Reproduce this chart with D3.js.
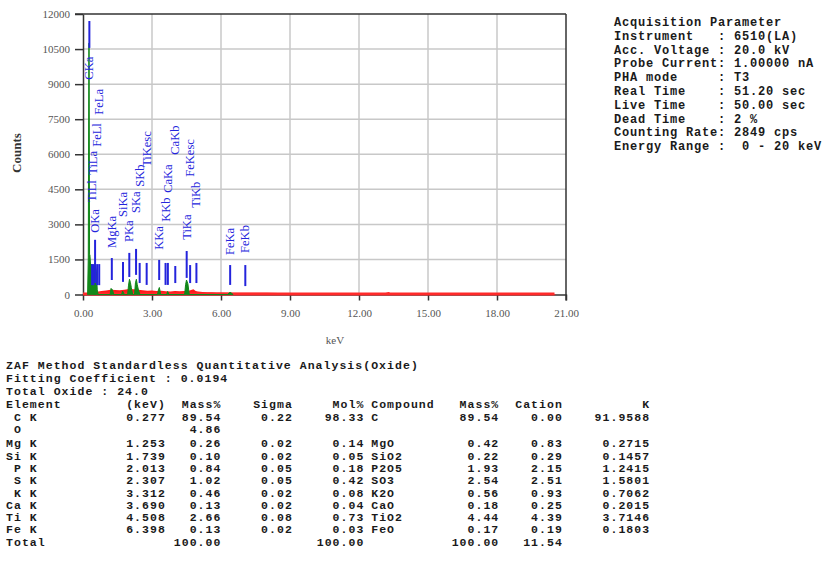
<!DOCTYPE html>
<html><head><meta charset="utf-8">
<script src="https://cdn.jsdelivr.net/npm/d3@7"></script>
<style>body{margin:0;background:#fff}svg{display:block}</style>
</head><body>
<script>
// ---------- data ----------
const xTicks = [0, 3, 6, 9, 12, 15, 18, 21];
const yTicks = [0, 1500, 3000, 4500, 6000, 7500, 9000, 10500, 12000];

// background (red) spectrum, keV / counts
const bgEnergy = [0.0,0.2,0.4,0.6,0.8,1.0,1.2,1.4,1.6,1.8,2.0,2.2,2.4,2.6,2.8,3.0,3.2,3.4,3.6,3.8,4.0,4.2,4.4,4.6,4.8,4.9,5.0,5.2,5.4,5.6,5.8,6.0,6.5,7.0,7.5,8.0,8.5,9.0,9.5,10.0,10.5,11.0,12.0,13.0,13.3,13.4,14.0,15.0,16.0,17.0,18.0,19.0,20.0,20.5,20.6,21.0];
const bgCounts = [0,0,60,120,150,170,200,190,180,200,230,220,200,180,160,170,150,160,140,130,150,140,150,160,220,150,130,110,100,95,90,90,80,75,70,70,60,55,50,45,40,30,25,20,110,20,20,20,20,20,20,20,20,20,0,0];

// identified peak (green) spectrum, keV / counts
const peakEnergy = [0.20,0.23,0.255,0.265,0.285,0.30,0.34,0.36,0.40,0.44,0.48,0.52,0.58,0.62,0.66,1.18,1.22,1.28,1.34,1.68,1.72,1.80,1.94,1.98,2.02,2.06,2.10,2.16,2.24,2.28,2.32,2.36,2.42,2.48,3.24,3.28,3.32,3.38,3.64,3.68,3.74,4.42,4.46,4.50,4.56,4.62,6.30,6.36,6.44,6.52];
const peakCounts = [0,1600,10750,10750,1700,1700,1100,1300,1250,300,900,1350,1000,200,0,0,260,200,0,0,150,0,0,400,650,520,300,0,0,500,650,420,150,0,0,200,300,0,0,130,0,0,420,620,460,0,0,80,80,0];

// KLM markers
const markerLabels = ["CKa","OKa","TiLl","TiLa","FeLl","FeLa","MgKa","SiKa","PKa","SKa","SKb","TiKesc","KKa","KKb","CaKa","CaKb","TiKa","TiKb","FeKesc","FeKa","FeKb"];
const markerEnergy = [0.277,0.525,0.395,0.452,0.615,0.705,1.253,1.739,2.013,2.307,2.464,2.768,3.312,3.589,3.690,4.012,4.508,4.931,4.658,6.398,7.057];
const markerTop    = [11700,2340,1300,1300,1300,1300,1560,1390,1780,1950,1350,1350,1480,1350,1350,1220,1860,1350,1260,1260,1260];
const markerBottom = [10550,490,400,400,400,400,620,540,750,840,490,410,620,410,410,490,710,490,490,410,360];
const labelBase    = [9190,2640,3960,5120,6320,7690,1990,3320,2250,3490,4610,5460,1910,3110,4350,5980,2340,3710,5040,1690,1780];

// acquisition parameters
const acqLines = [
  "Acquisition Parameter",
  "Instrument   : 6510(LA)",
  "Acc. Voltage : 20.0 kV",
  "Probe Current: 1.00000 nA",
  "PHA mode     : T3",
  "Real Time    : 51.20 sec",
  "Live Time    : 50.00 sec",
  "Dead Time    : 2 %",
  "Counting Rate: 2849 cps",
  "Energy Range :  0 - 20 keV"
];

// quantitative analysis report
const reportHeader = [
  "ZAF Method Standardless Quantitative Analysis(Oxide)",
  "Fitting Coefficient : 0.0194",
  "Total Oxide : 24.0"
];
const columnHeads = ["Element","(keV)","Mass%","Sigma","Mol%","Compound","Mass%","Cation","K"];
const elements = [" C K"," O","Mg K","Si K"," P K"," S K"," K K","Ca K","Ti K","Fe K","Total"];
const energyKeV = ["0.277","","1.253","1.739","2.013","2.307","3.312","3.690","4.508","6.398",""];
const massPct   = ["89.54","4.86","0.26","0.10","0.84","1.02","0.46","0.13","2.66","0.13","100.00"];
const sigma     = ["0.22","","0.02","0.02","0.05","0.05","0.02","0.02","0.08","0.02",""];
const molPct    = ["98.33","","0.14","0.05","0.18","0.42","0.08","0.04","0.73","0.03","100.00"];
const compound  = ["C","","MgO","SiO2","P2O5","SO3","K2O","CaO","TiO2","FeO",""];
const compMass  = ["89.54","","0.42","0.22","1.93","2.54","0.56","0.18","4.44","0.17","100.00"];
const cation    = ["0.00","","0.83","0.29","2.15","2.51","0.93","0.25","4.39","0.19","11.54"];
const kRatio    = ["91.9588","","0.2715","0.1457","1.2415","1.5801","0.7062","0.2015","3.7146","0.1803",""];

// ---------- drawing ----------
const W = 825, H = 564;
const svg = d3.select("body").append("svg").attr("width", W).attr("height", H);

const x = d3.scaleLinear().domain([0, 21]).range([83, 566]);
const y = d3.scaleLinear().domain([0, 12000]).range([294.5, 14]);
const serif = "'Liberation Serif','Times New Roman',serif";
const mono = "'Liberation Mono','Courier New',monospace";

// grid
const grid = svg.append("g");
grid.selectAll("line.v").data(xTicks.filter(d => d > 0 && d < 21)).join("line")
  .attr("x1", d => x(d)).attr("x2", d => x(d)).attr("y1", y(12000)).attr("y2", y(0))
  .attr("stroke", "#c8c8c8").attr("stroke-width", 1.5);
grid.selectAll("line.h").data(yTicks.filter(d => d > 0 && d < 12000)).join("line")
  .attr("x1", x(0)).attr("x2", x(21)).attr("y1", d => y(d)).attr("y2", d => y(d))
  .attr("stroke", "#c8c8c8").attr("stroke-width", 1.5);

// axes
const yAxis = d3.axisLeft(y).tickValues(yTicks).tickSize(8).tickSizeOuter(0).tickFormat(d3.format("d"));
const gy = svg.append("g").attr("transform", `translate(${x(0)},0)`).call(yAxis);
const xAxis = d3.axisBottom(x).tickValues(xTicks).tickSize(6).tickSizeOuter(0).tickFormat(d3.format(".2f"));
const gx = svg.append("g").attr("transform", `translate(0,${y(0)})`).call(xAxis);
[gx, gy].forEach(g => {
  g.select(".domain").attr("stroke", "#333").attr("stroke-width", 1.5);
  g.selectAll(".tick line").attr("stroke", "#333").attr("stroke-width", 1.5);
  g.selectAll(".tick text").attr("font-family", serif).attr("font-size", 11).attr("fill", "#555");
});
gy.selectAll(".tick text").attr("x", -13);
gx.selectAll(".tick text").attr("y", 15);
// frame top and right
svg.append("line").attr("x1", x(0) - 8).attr("x2", x(21)).attr("y1", y(12000)).attr("y2", y(12000))
  .attr("stroke", "#333").attr("stroke-width", 1.5);
svg.append("line").attr("x1", x(21)).attr("x2", x(21)).attr("y1", y(12000)).attr("y2", y(0) + 6)
  .attr("stroke", "#333").attr("stroke-width", 1.5);

// spectrum
const bgData = bgEnergy.map((e, i) => [e, bgCounts[i]]);
const pkData = peakEnergy.map((e, i) => [e, peakCounts[i]]);
const area = d3.area().x(d => x(d[0])).y0(y(0)).y1(d => y(d[1]));
svg.append("path").datum(bgData).attr("d", area).attr("fill", "#ff1a1a");
svg.append("line").attr("x1", x(0)).attr("x2", x(20.5)).attr("y1", y(0) - 0.5).attr("y2", y(0) - 0.5)
  .attr("stroke", "#ff2a2a").attr("stroke-width", 3);
svg.append("path").datum(pkData).attr("d", area).attr("fill", "#12881a").attr("stroke", "#12881a").attr("stroke-width", 1);

// markers
const markers = markerLabels.map((l, i) => ({l, e: markerEnergy[i], t: markerTop[i], b: markerBottom[i], lb: labelBase[i]}));
const blue = "#2424dc";
svg.append("g").selectAll("line").data(markers).join("line")
  .attr("x1", d => x(d.e)).attr("x2", d => x(d.e)).attr("y1", d => y(d.t)).attr("y2", d => y(d.b))
  .attr("stroke", blue).attr("stroke-width", 2);
svg.append("g").selectAll("text").data(markers).join("text")
  .attr("transform", d => `translate(${x(d.e)},${y(d.lb)}) rotate(-90)`)
  .attr("dy", "0.32em")
  .attr("font-family", serif).attr("font-size", 12.5).attr("fill", blue)
  .text(d => d.l);

// axis titles
svg.append("text").attr("transform", `translate(16,153) rotate(-90)`).attr("text-anchor", "middle")
  .attr("dy", "0.35em").attr("font-family", serif).attr("font-weight", "bold").attr("font-size", 13)
  .attr("fill", "#333").text("Counts");
svg.append("text").attr("x", 335).attr("y", 344).attr("text-anchor", "middle")
  .attr("font-family", serif).attr("font-size", 11).attr("fill", "#555").text("keV");

// acquisition parameters
const acqFs = 12, acqCw = 8.0, acqLs = acqCw - 0.6002 * acqFs;
svg.append("g").selectAll("text").data(acqLines).join("text")
  .attr("x", 614).attr("y", (d, i) => 26 + i * 13.8)
  .attr("xml:space", "preserve").style("white-space", "pre")
  .attr("font-family", mono).attr("font-size", acqFs).attr("letter-spacing", acqLs)
  .attr("font-weight", "bold").attr("fill", "#1a1a1a")
  .text(d => d);

// report
const cw = 7.94, tx0 = 6, repFs = 11.5, repLs = cw - 0.6002 * repFs;
const rep = svg.append("g").attr("font-family", mono).attr("font-size", repFs)
  .attr("letter-spacing", repLs).attr("font-weight", "bold").attr("fill", "#1a1a1a").style("white-space", "pre");
rep.selectAll("text.h").data(reportHeader).join("text")
  .attr("x", tx0).attr("y", (d, i) => 369 + i * 13).attr("xml:space", "preserve").text(d => d);

function cell(txt, col, yy, end) {
  if (!txt) return;
  rep.append("text").attr("x", tx0 + col * cw + (end ? repLs : 0)).attr("y", yy)
    .attr("text-anchor", end ? "end" : "start").attr("xml:space", "preserve").text(txt);
}
const colSpec = [[0, false], [20, true], [27, true], [36, true], [45, true], [46, false], [62, true], [70, true], [81, true]];
columnHeads.forEach((h, j) => cell(h, colSpec[j][0], 408, colSpec[j][1]));
elements.forEach((el, i) => {
  const yy = 420.5 + i * 12.3 + (i >= 2 ? 2.2 : 0);
  const vals = [el, energyKeV[i], massPct[i], sigma[i], molPct[i], compound[i], compMass[i], cation[i], kRatio[i]];
  vals.forEach((v, j) => cell(v, colSpec[j][0], yy, colSpec[j][1]));
});
</script>
</body></html>
